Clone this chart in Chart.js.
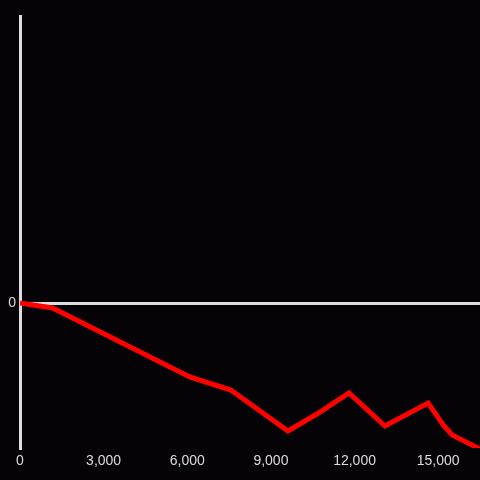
<!DOCTYPE html>
<html>
<head>
<meta charset="utf-8">
<script src="https://cdn.jsdelivr.net/npm/chart.js@4"></script>
<style>
  html, body { margin: 0; padding: 0; background: #050306; }
  #wrap { width: 480px; height: 480px; }
</style>
</head>
<body>
<div id="wrap"><canvas id="myChart"></canvas></div>
<script>
// values
let X_VALUES = [0, 1170, 6090, 7560, 9610, 10650, 11800, 13090, 14640, 15180, 15500, 16500]
let Y_VALUES = [0, -5, -74, -87, -128, -111, -90, -123, -100, -122, -132, -146]
let X_MIN = 0
let X_MAX = 16500
let X_TICKS = [0, 3000, 6000, 9000, 12000, 15000]
let Y_MIN = -145
let Y_MAX = 287
let Y_TICKS = [0]

let ctx = document.getElementById('myChart');

let points = X_VALUES.map((x, i) => ({ x: x, y: Y_VALUES[i] }))

let myChart = new Chart(ctx, {
    type: 'line',
    data: {
        datasets: [{
            data: points,
            borderColor: '#ff0000',
            borderWidth: 5,
            pointRadius: 0,
            fill: false,
            tension: 0
        }]
    },
    options: {
        animation: false,
        maintainAspectRatio: false,
        responsive: true,
        layout: { padding: { top: 16, left: 0, right: 0, bottom: 0 } },
        plugins: {
            legend: { display: false },
            tooltip: { enabled: false }
        },
        scales: {
            x: {
                type: 'linear',
                min: X_MIN,
                max: X_MAX,
                afterBuildTicks: (axis) => { axis.ticks = X_TICKS.map(v => ({ value: v })) },
                grid: { display: false, drawTicks: false },
                border: { display: false },
                ticks: {
                    color: '#dddddd',
                    padding: 5,
                    maxRotation: 0,
                    autoSkip: false,
                    font: { family: 'Liberation Sans', size: 14 }
                },
                afterFit: (axis) => { axis.height = 32 }
            },
            y: {
                min: Y_MIN,
                max: Y_MAX,
                afterBuildTicks: (axis) => { axis.ticks = Y_TICKS.map(v => ({ value: v })) },
                grid: {
                    color: '#dddddd',
                    lineWidth: 3,
                    drawTicks: false
                },
                border: { display: true, color: '#dddddd', width: 3 },
                ticks: {
                    color: '#dddddd',
                    padding: 4,
                    font: { family: 'Liberation Sans', size: 14 }
                },
                afterFit: (axis) => { axis.width = 20 }
            }
        }
    }
});
</script>
</body>
</html>
